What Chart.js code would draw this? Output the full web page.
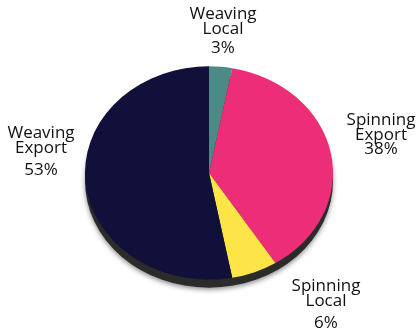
<!DOCTYPE html>
<html lang="en">
<head>
  <meta charset="UTF-8" />
  <title>Textile share</title>
  <script src="https://cdn.jsdelivr.net/npm/chart.js"></script>
  <style>
    body { margin: 0; background: #fff; }
    #wrap { width: 419px; height: 332px; }
  </style>
</head>
<body>
  <div id="wrap"><canvas id="pieChart" width="419" height="332"></canvas></div>

  <script>
    // data
    const categories = ['Weaving Local', 'Spinning Export', 'Spinning Local', 'Weaving Export'];
    const shares = [3, 38, 6, 53];
    const sliceColors = ['#4b8a85', '#ee2d79', '#fde547', '#10103b'];

    // label boxes: x, y of the 2nd line from the pie centre, gap down to the % line
    const labelOffsets = [[14, -144, 19], [172, -38, 14], [117, 128, 22], [-168, -25, 22]];
    const tilt = 0.86; // vertical squash of the pie

    const tiltPlugin = {
      id: 'tilt',
      beforeDatasetsDraw(chart) {
        const arc = chart.getDatasetMeta(0).data[0];
        const ctx = chart.ctx;
        const cx = arc.x, cy = arc.y, r = arc.outerRadius;
        // dark rim under the disc
        ctx.save();
        ctx.shadowColor = 'rgba(0,0,0,0.45)';
        ctx.shadowBlur = 5;
        ctx.shadowOffsetY = 2;
        ctx.fillStyle = '#2b2b2b';
        ctx.beginPath();
        ctx.ellipse(cx, cy + 8, r, r * tilt, 0, 0, Math.PI * 2);
        ctx.fill();
        ctx.restore();

        ctx.save();
        ctx.translate(cx, cy);
        ctx.scale(1, tilt);
        ctx.translate(-cx, -cy);
      },
      afterDatasetsDraw(chart) {
        chart.ctx.restore();
      },
      afterDraw(chart) {
        const arc = chart.getDatasetMeta(0).data[0];
        const ctx = chart.ctx;
        ctx.save();
        ctx.fillStyle = '#111';
        ctx.font = '17px "Open Sans", sans-serif';
        ctx.textAlign = 'center';
        ctx.textBaseline = 'middle';
        categories.forEach((name, i) => {
          const [dx, dy, gap] = labelOffsets[i];
          const x = arc.x + dx;
          const y = arc.y + dy;
          const words = name.split(' ');
          ctx.fillText(words[0], x, y - 15);
          ctx.fillText(words[1], x, y);
          ctx.fillText(shares[i] + '%', x, y + gap);
        });
        ctx.restore();
      }
    };

    new Chart(document.getElementById('pieChart').getContext('2d'), {
      type: 'pie',
      data: {
        labels: categories,
        datasets: [{
          data: shares,
          backgroundColor: sliceColors,
          borderWidth: 0
        }]
      },
      options: {
        responsive: false,
        animation: false,
        layout: { padding: { left: 85, right: 86, top: 49, bottom: 35 } },
        plugins: {
          legend: { display: false },
          tooltip: { enabled: false }
        }
      },
      plugins: [tiltPlugin]
    });
  </script>
</body>
</html>
